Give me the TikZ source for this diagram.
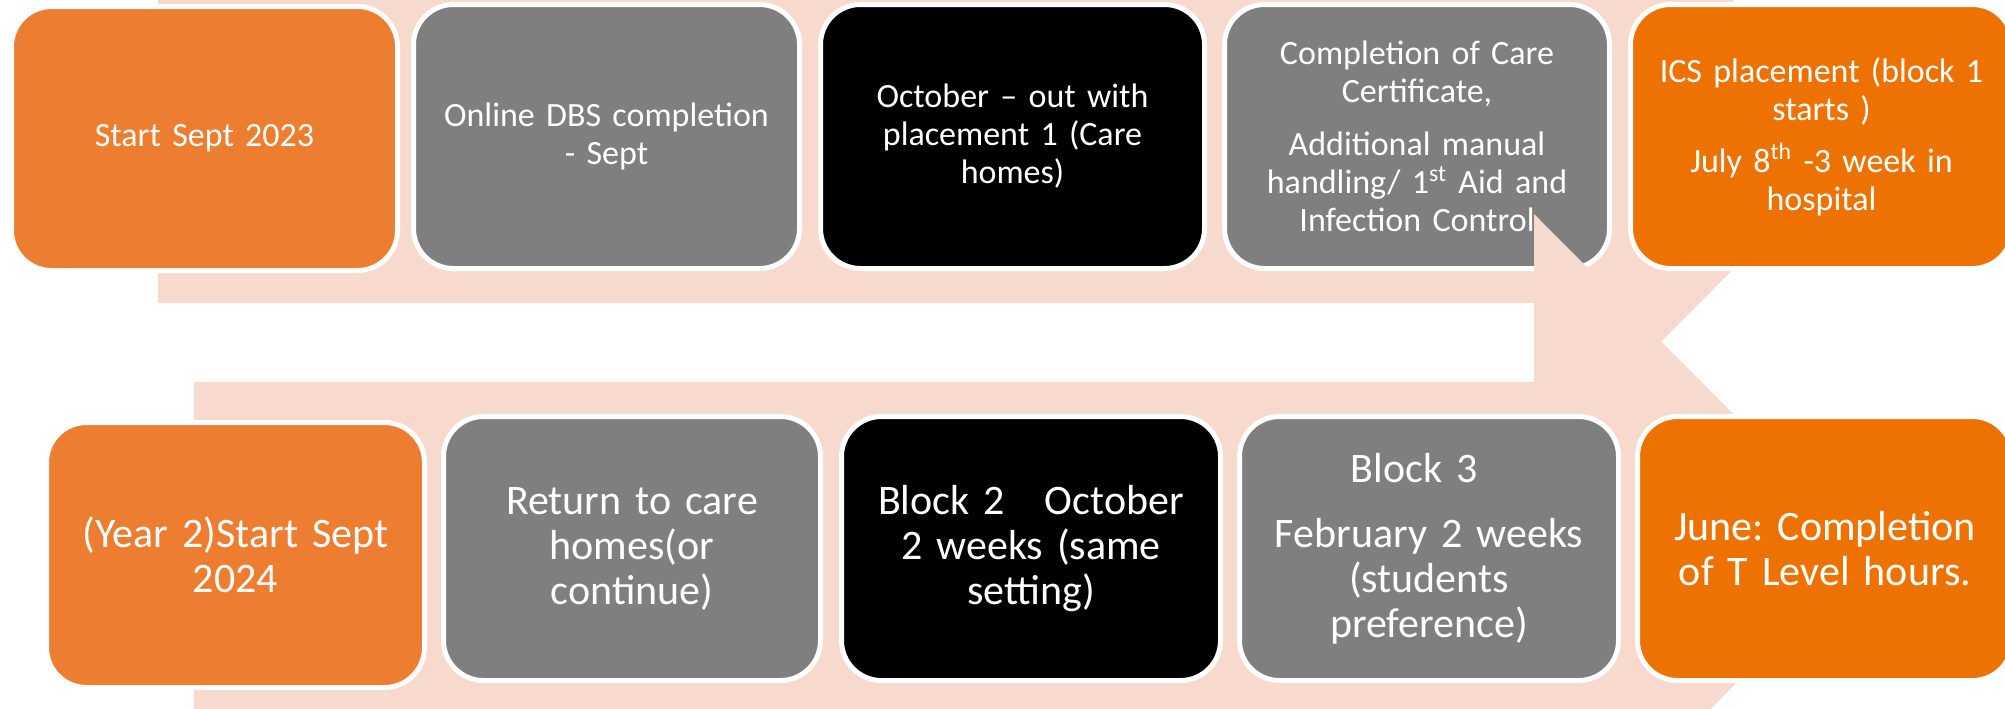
\documentclass[tikz,border=0pt]{standalone}
\usepackage{fontspec}
\setmainfont{Carlito}
\frenchspacing
\definecolor{pinkband}{RGB}{247,217,206}
\definecolor{orangeA}{RGB}{237,125,49}
\definecolor{orangeB}{RGB}{238,114,2}
\definecolor{greybox}{RGB}{127,127,127}
\begin{document}
\begin{tikzpicture}[x=0.5pt,y=-0.5pt,
  stage/.style={draw=white, line width=2.5pt, rounded corners=20pt, inner sep=0pt,
    text=white, align=center, text width=180pt, minimum height=132pt},
  toprow/.style={stage, font=\fontsize{17pt}{19pt}\selectfont},
  botrow/.style={stage, font=\fontsize{21pt}{22.5pt}\selectfont},
  band/.style={fill=pinkband}]

\useasboundingbox (0,0) rectangle (2005,708);
\clip (0,0) rectangle (2005,708);
\fill[white] (0,0) rectangle (2005,708);

% first-year arrow behind the top row
\fill[band] (158,-33) -- (1534,-33) -- (1534,-199) -- (1867,135)
  -- (1534,469) -- (1534,303) -- (158,303) -- cycle;

% top row
\node[toprow, fill=orangeA, minimum width=193pt] (t1) at (204.5,138.5)
  {Start Sept 2023};
\node[toprow, fill=greybox, minimum width=193pt] (t2) at (606.5,136.5)
  {Online DBS completion\\- Sept};
\node[toprow, fill=black, minimum width=192pt] (t3) at (1012.5,136.5)
  {October – out with\\placement 1 (Care\\homes)};
\node[toprow, fill=greybox, minimum width=192.5pt] (t4) at (1417,136.5)
  {Completion of Care\\Certificate,\\[7.5pt]Additional manual\\handling/ 1\textsuperscript{st} Aid and\\Infection Control};
\node[toprow, fill=orangeB, minimum width=191pt] (t5) at (1821.5,136.5)
  {ICS placement (block 1\\starts )\\[7pt]July 8\textsuperscript{th} -3 week in\\hospital};

% second-year arrow behind the bottom row
\fill[band] (194,382) -- (1534,382) -- (1534,214) -- (1869,550)
  -- (1534,886) -- (1534,718) -- (194,718) -- cycle;

% bottom row
\node[botrow, fill=orangeA, minimum width=189pt, minimum height=132.5pt] (b1) at (235.5,555)
  {(Year 2)Start Sept\\2024};
\node[botrow, fill=greybox, minimum width=188.5pt] (b2) at (632,548.5)
  {Return to care\\homes(or\\continue)};
\node[botrow, fill=black, minimum width=189.5pt] (b3) at (1031,548.5)
  {Block 2\hspace{20pt}October\\2 weeks (same\\setting)};
\node[botrow, fill=greybox, minimum width=189.5pt] (b4) at (1429,548.5)
  {\mbox{Block 3\hspace{15pt}}\\[10pt]February 2 weeks\\(students\\preference)};
\node[botrow, fill=orangeB, minimum width=187.5pt] (b5) at (1825,548.5)
  {June: Completion\\of T Level hours.};
\end{tikzpicture}
\end{document}
